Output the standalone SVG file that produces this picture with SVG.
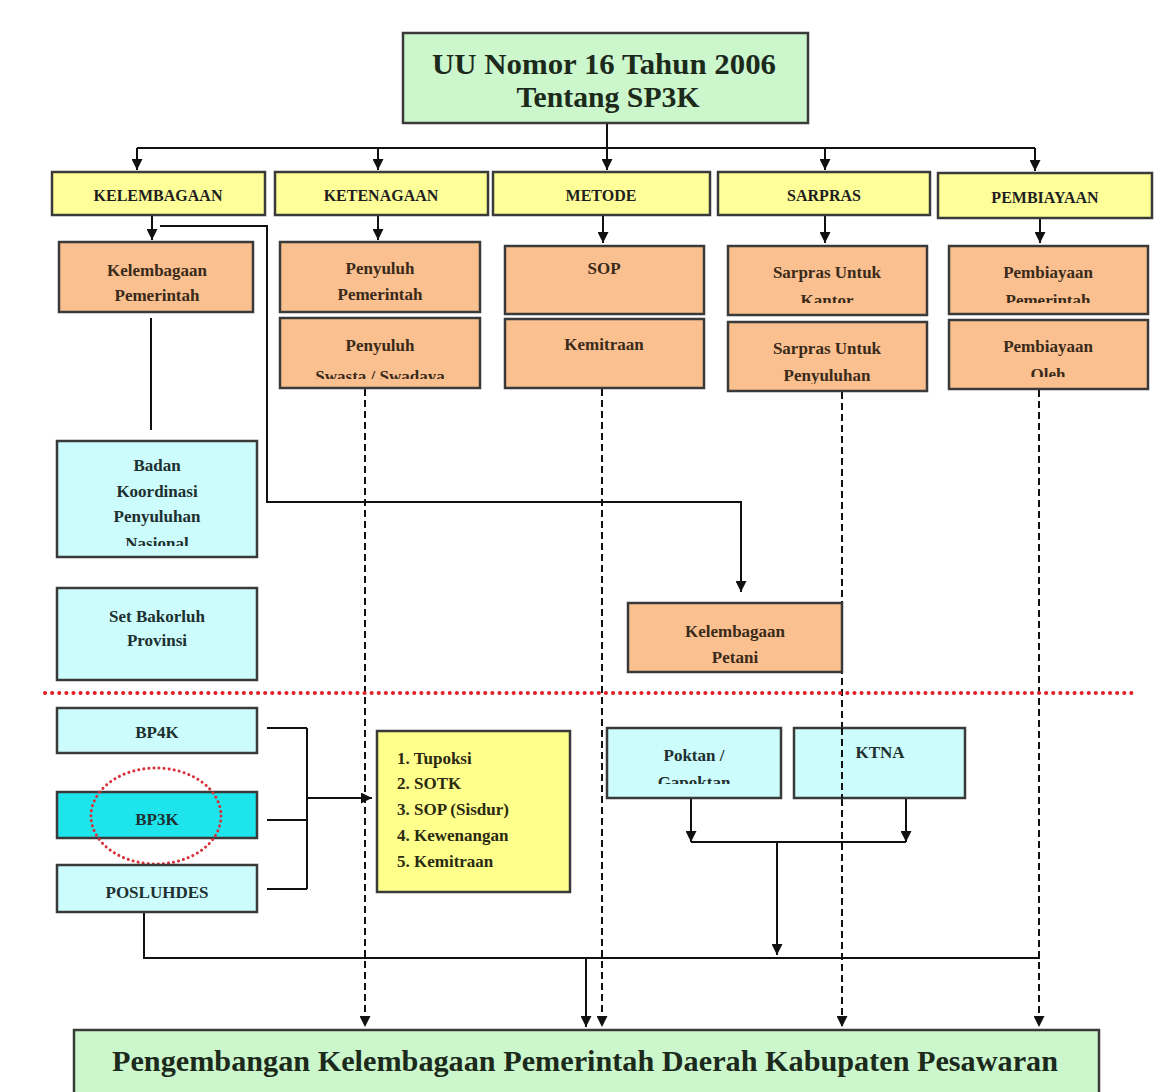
<svg xmlns="http://www.w3.org/2000/svg" width="1156" height="1092" viewBox="0 0 1156 1092">
<style>
.box{stroke:#3a3a3a;stroke-width:2.5}
.green{fill:#ccf7cc}
.yellow{fill:#ffff99}
.orange{fill:#fac08f}
.blue{fill:#ccfcfc}
.cyan{fill:#1ee4ec}
.listbox{fill:#ffff8c}
text{font-family:"Liberation Serif","DejaVu Serif",serif;fill:#1e1e1e;text-anchor:middle}
.big{font-size:29px;font-weight:bold;fill:#1c2a1c}
.hdr{font-size:16px;font-weight:bold}
.lbl{font-size:17px;font-weight:bold;fill:#3a2a1a}
.bl{font-size:17px;font-weight:bold;fill:#1e3030}
.lst{font-size:17px;font-weight:bold;text-anchor:start;fill:#2a2a10}
.solid{stroke:#111;stroke-width:2;fill:none}
.dash{stroke:#111;stroke-width:2;fill:none;stroke-dasharray:7,4}
.red{stroke:#e0202a;stroke-width:4;fill:none;stroke-dasharray:0.1,7;stroke-linecap:round}
</style>
<defs>
<marker id="ah" viewBox="0 0 10 10" refX="10" refY="5" markerWidth="12" markerHeight="11" markerUnits="userSpaceOnUse" orient="auto">
<path d="M0,0 L10,5 L0,10 Z" fill="#111"/>
</marker>
<clipPath id="c1"><rect x="280" y="318" width="200" height="61"/></clipPath>
<clipPath id="c2"><rect x="728" y="246" width="199" height="57"/></clipPath>
<clipPath id="c3"><rect x="949" y="246" width="199" height="57"/></clipPath>
<clipPath id="c4"><rect x="949" y="320" width="199" height="57"/></clipPath>
<clipPath id="c5"><rect x="57" y="441" width="200" height="105"/></clipPath>
<clipPath id="c6"><rect x="607" y="728" width="174" height="56"/></clipPath>
<clipPath id="c7"><rect x="728" y="322" width="199" height="62"/></clipPath>
</defs>
<rect width="1156" height="1092" fill="#ffffff"/>

<g id="connectors">
<path class="solid" d="M607,123 V148"/>
<path class="solid" d="M137,148 H1035"/>
<path class="solid" d="M137,148 V170" marker-end="url(#ah)"/>
<path class="solid" d="M378,148 V170" marker-end="url(#ah)"/>
<path class="solid" d="M607,148 V170" marker-end="url(#ah)"/>
<path class="solid" d="M825,148 V170" marker-end="url(#ah)"/>
<path class="solid" d="M1035,148 V171" marker-end="url(#ah)"/>
<path class="solid" d="M152,215 V240" marker-end="url(#ah)"/>
<path class="solid" d="M378,215 V240" marker-end="url(#ah)"/>
<path class="solid" d="M603,215 V243" marker-end="url(#ah)"/>
<path class="solid" d="M825,215 V243" marker-end="url(#ah)"/>
<path class="solid" d="M1040,218 V243" marker-end="url(#ah)"/>
<path class="solid" d="M160,226 H267 V502 H741 V592" marker-end="url(#ah)"/>
<path class="solid" d="M151,318 V430" stroke-width="3"/>
<path class="dash" d="M365,389 V1027" marker-end="url(#ah)"/>
<path class="dash" d="M602,389 V1027" marker-end="url(#ah)"/>
<path class="dash" d="M842,392 V1027" marker-end="url(#ah)"/>
<path class="dash" d="M1039,390 V1027" marker-end="url(#ah)"/>
<path class="solid" d="M267,728 H307 M267,820 H307 M267,889 H307 M307,728 V889"/>
<path class="solid" d="M307,798 H372" marker-end="url(#ah)"/>
<path class="solid" d="M691,798 V842" marker-end="url(#ah)"/>
<path class="solid" d="M906,798 V842" marker-end="url(#ah)"/>
<path class="solid" d="M691,842 H906"/>
<path class="solid" d="M777,842 V955" marker-end="url(#ah)"/>
<path class="solid" d="M144,912 V958 H1040"/>
<path class="solid" d="M586,958 V1027" marker-end="url(#ah)"/>
<path class="red" d="M45,693 H1134"/>
</g>

<g id="n-uu"><rect class="box green" x="403" y="33" width="405" height="90"/>
<text class="big" x="604" y="74" textLength="344" lengthAdjust="spacingAndGlyphs">UU Nomor 16 Tahun 2006</text>
<text class="big" x="608" y="107" textLength="183" lengthAdjust="spacingAndGlyphs">Tentang SP3K</text></g>

<g id="n-kelembagaan"><rect class="box yellow" x="52" y="172" width="213" height="43"/><text class="hdr" x="158" y="201">KELEMBAGAAN</text></g>
<g id="n-ketenagaan"><rect class="box yellow" x="275" y="172" width="213" height="43"/><text class="hdr" x="381" y="201">KETENAGAAN</text></g>
<g id="n-metode"><rect class="box yellow" x="493" y="172" width="217" height="43"/><text class="hdr" x="601" y="201">METODE</text></g>
<g id="n-sarpras"><rect class="box yellow" x="718" y="172" width="212" height="43"/><text class="hdr" x="824" y="201">SARPRAS</text></g>
<g id="n-pembiayaan"><rect class="box yellow" x="938" y="173" width="214" height="45"/><text class="hdr" x="1045" y="203">PEMBIAYAAN</text></g>

<g id="n-kel-pemerintah"><rect class="box orange" x="59" y="242" width="194" height="70"/>
<text class="lbl" x="157" y="276">Kelembagaan</text><text class="lbl" x="157" y="301">Pemerintah</text></g>
<g id="n-peny-pemerintah"><rect class="box orange" x="280" y="242" width="200" height="70"/>
<text class="lbl" x="380" y="274">Penyuluh</text><text class="lbl" x="380" y="300">Pemerintah</text></g>
<g id="n-peny-swasta"><rect class="box orange" x="280" y="318" width="200" height="70"/>
<g clip-path="url(#c1)"><text class="lbl" x="380" y="351">Penyuluh</text><text class="lbl" x="380" y="382">Swasta / Swadaya</text></g></g>
<g id="n-sop"><rect class="box orange" x="505" y="246" width="199" height="68"/>
<text class="lbl" x="604" y="274">SOP</text></g>
<g id="n-kemitraan"><rect class="box orange" x="505" y="319" width="199" height="69"/>
<text class="lbl" x="604" y="350">Kemitraan</text></g>
<g id="n-sarpras-kantor"><rect class="box orange" x="728" y="246" width="199" height="69"/>
<g clip-path="url(#c2)"><text class="lbl" x="827" y="278">Sarpras Untuk</text><text class="lbl" x="827" y="306">Kantor</text></g></g>
<g id="n-sarpras-penyuluhan"><rect class="box orange" x="728" y="322" width="199" height="69"/>
<g clip-path="url(#c7)"><text class="lbl" x="827" y="354">Sarpras Untuk</text><text class="lbl" x="827" y="381">Penyuluhan</text></g></g>
<g id="n-pemb-pemerintah"><rect class="box orange" x="949" y="246" width="199" height="68"/>
<g clip-path="url(#c3)"><text class="lbl" x="1048" y="278">Pembiayaan</text><text class="lbl" x="1048" y="306">Pemerintah</text></g></g>
<g id="n-pemb-oleh"><rect class="box orange" x="949" y="320" width="199" height="69"/>
<g clip-path="url(#c4)"><text class="lbl" x="1048" y="352">Pembiayaan</text><text class="lbl" x="1048" y="380">Oleh</text></g></g>

<g id="n-badan"><rect class="box blue" x="57" y="441" width="200" height="116"/>
<g clip-path="url(#c5)"><text class="bl" x="157" y="471">Badan</text><text class="bl" x="157" y="497">Koordinasi</text><text class="bl" x="157" y="522">Penyuluhan</text><text class="bl" x="157" y="549">Nasional</text></g></g>
<g id="n-bakorluh"><rect class="box blue" x="57" y="588" width="200" height="92"/>
<text class="bl" x="157" y="622">Set Bakorluh</text><text class="bl" x="157" y="646">Provinsi</text></g>
<g id="n-kel-petani"><rect class="box orange" x="628" y="603" width="214" height="69"/>
<text class="lbl" x="735" y="637">Kelembagaan</text><text class="lbl" x="735" y="663">Petani</text></g>

<g id="n-bp4k"><rect class="box blue" x="57" y="708" width="200" height="45"/><text class="bl" x="157" y="738">BP4K</text></g>
<g id="n-bp3k"><rect class="box cyan" x="57" y="792" width="200" height="46"/><text class="bl" x="157" y="825">BP3K</text>
<ellipse cx="156" cy="816" rx="65" ry="48" stroke="#d8303a" stroke-width="3" fill="none" stroke-dasharray="0.1,5" stroke-linecap="round"/></g>
<g id="n-posluhdes"><rect class="box blue" x="57" y="865" width="200" height="47"/><text class="bl" x="157" y="898">POSLUHDES</text></g>

<g id="n-list"><rect class="box listbox" x="377" y="731" width="193" height="161"/>
<text class="lst" x="397" y="764">1. Tupoksi</text>
<text class="lst" x="397" y="789">2. SOTK</text>
<text class="lst" x="397" y="815">3. SOP (Sisdur)</text>
<text class="lst" x="397" y="841">4. Kewenangan</text>
<text class="lst" x="397" y="867">5. Kemitraan</text></g>

<g id="n-poktan"><rect class="box blue" x="607" y="728" width="174" height="70"/>
<g clip-path="url(#c6)"><text class="bl" x="694" y="761">Poktan /</text><text class="bl" x="694" y="788">Gapoktan</text></g></g>
<g id="n-ktna"><rect class="box blue" x="794" y="728" width="171" height="70"/><text class="bl" x="880" y="758">KTNA</text></g>

<g id="n-bottom"><rect class="box green" x="74" y="1030" width="1025" height="70"/>
<text class="big" x="585" y="1071" font-size="28" textLength="946" lengthAdjust="spacingAndGlyphs">Pengembangan Kelembagaan Pemerintah Daerah Kabupaten Pesawaran</text></g>

<path class="dash" d="M842,728 V798"/>
</svg>
